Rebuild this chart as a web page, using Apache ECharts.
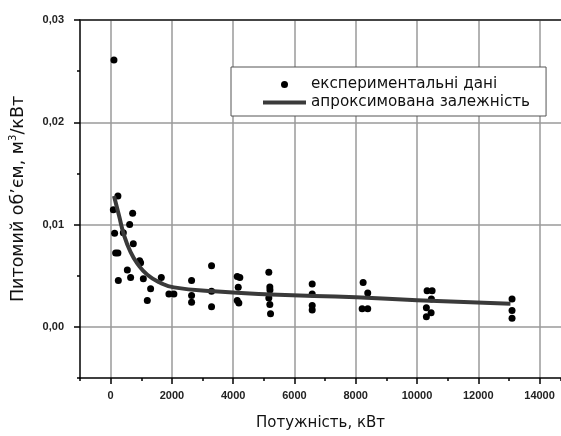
<!DOCTYPE html>
<html>
<head>
<meta charset="UTF-8">
<title>Питомий об'єм</title>
<style type="text/css">
   html, body { margin:0; padding:0; background:#ffffff; }
   #container { width:561px; height:436px; }
</style>
</head>
<body>
<div id="container"></div>
<script src="https://cdn.jsdelivr.net/npm/echarts@6.0.0/dist/echarts.min.js"></script>
<script type="text/javascript">
// tick labels
var xTicks = [0, 2000, 4000, 6000, 8000, 10000, 12000, 14000];
var yTicks = [0, 0.01, 0.02, 0.03];

// experimental points (power, kW / specific volume, m3/kW)
var expPower = [108, 238, 88, 718, 620, 130, 414, 740, 163, 238, 946, 978, 545, 652, 251, 1067,
                1654, 1305, 1197, 1902, 2065, 2642, 2642, 2642, 3294, 3294, 3294,
                4132, 4217, 4165, 4132, 4185, 5163, 5196, 5200, 5163, 5196, 5219,
                6579, 6579, 6579, 6579, 8242, 8392, 8209, 8392,
                10329, 10493, 10470, 10306, 10460, 10306, 13102, 13102, 13102];
var expVolume = [0.0261, 0.0128, 0.01145, 0.0111, 0.0100, 0.00916, 0.00919, 0.00813, 0.00723, 0.00723, 0.00646, 0.00627, 0.00556, 0.00482, 0.00453, 0.0047,
                 0.00482, 0.00373, 0.00257, 0.00321, 0.00321, 0.00453, 0.00306, 0.00241, 0.00598, 0.00347, 0.00196,
                 0.00492, 0.00482, 0.00386, 0.00257, 0.00234, 0.00533, 0.00389, 0.0036, 0.00283, 0.00219, 0.00128,
                 0.00418, 0.00321, 0.00209, 0.00164, 0.00434, 0.00331, 0.00176, 0.00176,
                 0.00354, 0.00354, 0.00273, 0.00186, 0.00138, 0.00099, 0.00273, 0.00161, 0.00084];

// approximated dependence
var fitPower = [110, 271, 434, 652, 871, 1197, 1631, 2065, 3370, 5220, 8010, 10000, 13050];
var fitVolume = [0.0128, 0.0109, 0.0090, 0.0073, 0.0062, 0.0051, 0.0043, 0.00386, 0.00347, 0.00317, 0.00289, 0.0026, 0.00225];

var expData = [], fitData = [];
for (var i = 0; i < expPower.length; i++) {
    expData.push([expPower[i], expVolume[i]]);
}
for (var j = 0; j < fitPower.length; j++) {
    fitData.push([fitPower[j], fitVolume[j]]);
}

var font = 'Liberation Sans, Arial, sans-serif';
var wideFont = 'DejaVu Sans, sans-serif';
var gridLine = { show: true, lineStyle: { color: '#9a9a9a', width: 1.5 } };

var myChart = echarts.init(document.getElementById('container'));
var option = {
    animation: false,
    textStyle: { fontFamily: font },
    grid: { left: 80, top: 20, right: 0, bottom: 53 },
    legend: {
        orient: 'vertical',
        left: 231,
        top: 67,
        padding: [10, 16, 6, 32],
        itemWidth: 43,
        itemHeight: 7,
        itemGap: 3,
        symbolKeepAspect: true,
        backgroundColor: '#ffffff',
        borderColor: '#555555',
        borderWidth: 1,
        borderRadius: 0,
        textStyle: { fontFamily: wideFont, fontSize: 15.2, color: '#111' },
        data: [
            { name: 'експериментальні дані', icon: 'circle' },
            { name: 'апроксимована залежність', icon: 'path://M0,0L43,0L43,4L0,4Z' }
        ]
    },
    xAxis: [
        {   // axis line + minor ticks
            type: 'value', min: -1000, max: 14700, interval: 1000, position: 'bottom',
            axisLine: { show: true, onZero: false, lineStyle: { color: '#000', width: 1.5 } },
            axisTick: { show: true, length: 3, lineStyle: { color: '#000', width: 1.5 } },
            axisLabel: { show: false },
            splitLine: { show: false }
        },
        {   // labelled ticks + grid
            type: 'value', min: -1000, max: 14700, position: 'bottom',
            axisLine: { show: false, onZero: false },
            axisTick: { show: true, length: 6, customValues: xTicks, lineStyle: { color: '#000', width: 1.5 } },
            axisLabel: {
                customValues: xTicks, margin: 12, fontSize: 11, fontWeight: 'bold', color: '#222', fontFamily: font,
                formatter: function (v) { return String(v); }
            },
            splitLine: gridLine,
            name: 'Потужність, кВт',
            nameLocation: 'middle',
            nameGap: 38,
            nameTextStyle: { fontSize: 15, color: '#111', fontFamily: wideFont }
        },
        {   // top frame
            type: 'value', min: -1000, max: 14700, position: 'top',
            axisLine: { show: true, onZero: false, lineStyle: { color: '#222', width: 1.5 } },
            axisTick: { show: false }, axisLabel: { show: false }, splitLine: { show: false }
        }
    ],
    yAxis: [
        {
            type: 'value', min: -0.005, max: 0.03, interval: 0.005, position: 'left',
            axisLine: { show: true, onZero: false, lineStyle: { color: '#000', width: 1.5 } },
            axisTick: { show: true, length: 3, lineStyle: { color: '#000', width: 1.5 } },
            axisLabel: { show: false },
            splitLine: { show: false }
        },
        {
            type: 'value', min: -0.005, max: 0.03, position: 'left',
            axisLine: { show: false, onZero: false },
            axisTick: { show: true, length: 6, customValues: yTicks, lineStyle: { color: '#000', width: 1.5 } },
            axisLabel: {
                customValues: yTicks, margin: 16, fontSize: 11, fontWeight: 'bold', color: '#222', fontFamily: font,
                formatter: function (v) { return v.toFixed(2).replace('.', ','); }
            },
            splitLine: gridLine,
            name: 'Питомий об’єм, м{s|3}/кВт',
            nameLocation: 'middle',
            nameGap: 52,
            nameTextStyle: {
                fontSize: 17.5, color: '#111', fontFamily: wideFont, lineHeight: 20,
                rich: { s: { fontSize: 10, verticalAlign: 'top', lineHeight: 20, fontFamily: wideFont, color: '#111' } }
            }
        }
    ],
    series: [
        {
            name: 'експериментальні дані',
            type: 'scatter',
            xAxisIndex: 0, yAxisIndex: 0,
            symbol: 'circle',
            symbolSize: 7,
            itemStyle: { color: '#000', opacity: 1 },
            data: expData
        },
        {
            name: 'апроксимована залежність',
            type: 'line',
            xAxisIndex: 0, yAxisIndex: 0,
            smooth: true,
            showSymbol: false,
            symbol: 'none',
            lineStyle: { color: '#3a3a3a', width: 4 },
            itemStyle: { color: '#3a3a3a' },
            data: fitData
        }
    ]
};
myChart.setOption(option, true);
</script>
</body>
</html>
